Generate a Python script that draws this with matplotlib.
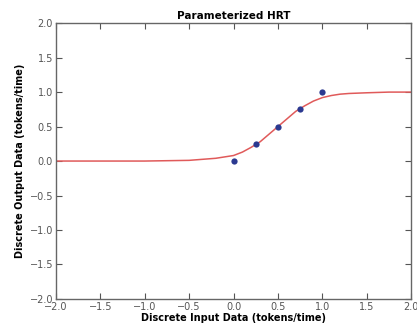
import matplotlib
matplotlib.use("Agg")
import matplotlib.pyplot as plt

# observed data points
obs_x = [0.0, 0.25, 0.5, 0.75, 1.0]
obs_y = [0.0, 0.25, 0.5, 0.75, 1.0]

# fitted curve
fit_x = [-2.0, -1.0, -0.5, -0.3, -0.2, -0.1, 0.0, 0.1, 0.2, 0.3, 0.4, 0.5, 0.6, 0.7,
         0.8, 0.9, 1.0, 1.1, 1.2, 1.3, 1.5, 1.75, 2.0]
fit_y = [0.0, 0.0, 0.01, 0.03, 0.04, 0.06, 0.08, 0.13, 0.2, 0.28, 0.39, 0.5, 0.61, 0.72,
         0.8, 0.87, 0.92, 0.95, 0.97, 0.98, 0.99, 1.0, 1.0]

ticks = [-2.0, -1.5, -1.0, -0.5, 0.0, 0.5, 1.0, 1.5, 2.0]

fig = plt.figure(figsize=(4.17, 3.26), dpi=100)
ax = fig.add_axes([0.134, 0.083, 0.852, 0.846])

ax.plot(fit_x, fit_y, color="#e05a5a", linewidth=1.1)
ax.plot(obs_x, obs_y, "o", color="#2b3990", markersize=4.5, markeredgewidth=0)

ax.set_xlim(-2, 2)
ax.set_ylim(-2, 2)
ax.set_xticks(ticks)
ax.set_yticks(ticks)
ax.tick_params(direction="in", top=True, right=True, length=4, labelsize=7, colors="#555555", pad=2)
for s in ax.spines.values():
    s.set_color("#666666")
    s.set_linewidth(1.0)

ax.set_title("Parameterized HRT", fontsize=7.5, fontweight="bold", pad=3)
ax.set_xlabel("Discrete Input Data (tokens/time)", fontsize=7, fontweight="bold", labelpad=1)
ax.set_ylabel("Discrete Output Data (tokens/time)", fontsize=7, fontweight="bold", labelpad=3)

fig.savefig("out.png", dpi=100)
